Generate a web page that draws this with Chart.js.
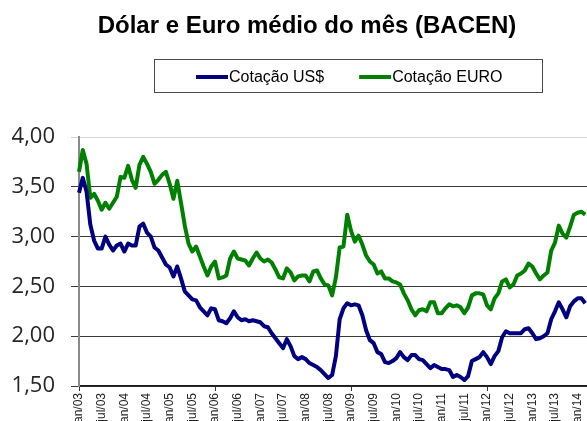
<!DOCTYPE html>
<html lang="pt-BR">
<head>
<meta charset="utf-8">
<title>Dólar e Euro médio do mês (BACEN)</title>
<script src="https://cdn.jsdelivr.net/npm/chart.js@4.4.1/dist/chart.umd.min.js"></script>
<style>
  html, body { margin: 0; padding: 0; background: #fff; overflow: hidden; }
  #wrap { width: 600px; height: 421px; }
</style>
</head>
<body>
<div id="wrap"><canvas id="cotacoes" width="600" height="421"></canvas></div>
<script>
// meses e anos do eixo x (jan/03 ate abr/14)
const meses = ['jan', 'fev', 'mar', 'abr', 'mai', 'jun', 'jul', 'ago', 'set', 'out', 'nov', 'dez'];
const anos = ['03', '04', '05', '06', '07', '08', '09', '10', '11', '12', '13', '14'];
const mesesComRotulo = ['jan', 'jul'];

// media mensal, jan/03 a mar/14
const cotacaoUSD = [
  3.44, 3.59, 3.45, 3.12, 2.96, 2.88, 2.88, 3.00, 2.92, 2.86, 2.91, 2.93,
  2.85, 2.93, 2.91, 2.91, 3.10, 3.13, 3.04, 3.00, 2.89, 2.86, 2.79, 2.72,
  2.69, 2.60, 2.70, 2.58, 2.45, 2.41, 2.37, 2.36, 2.29, 2.25, 2.21, 2.28,
  2.27, 2.16, 2.15, 2.13, 2.18, 2.25, 2.19, 2.16, 2.17, 2.15, 2.16, 2.15,
  2.14, 2.10, 2.09, 2.03, 1.98, 1.93, 1.88, 1.97, 1.90, 1.80, 1.77, 1.79,
  1.77, 1.73, 1.71, 1.69, 1.66, 1.62, 1.58, 1.61, 1.80, 2.17, 2.28, 2.33,
  2.31, 2.32, 2.31, 2.21, 2.06, 1.96, 1.93, 1.84, 1.82, 1.74, 1.73, 1.75,
  1.78, 1.84, 1.79, 1.76, 1.81, 1.81, 1.77, 1.76, 1.72, 1.68, 1.71, 1.69,
  1.67, 1.67, 1.66, 1.59, 1.61, 1.59, 1.56, 1.60, 1.75, 1.77, 1.79, 1.84,
  1.79, 1.72, 1.80, 1.85, 1.99, 2.05, 2.03, 2.03, 2.03, 2.03, 2.07, 2.08,
  2.03, 1.97, 1.98, 2.00, 2.03, 2.17, 2.25, 2.34, 2.27, 2.19, 2.30, 2.35,
  2.38, 2.38, 2.33
];
const cotacaoEURO = [
  3.65, 3.87, 3.73, 3.39, 3.43, 3.36, 3.27, 3.34, 3.28, 3.34, 3.40, 3.60,
  3.59, 3.71, 3.57, 3.49, 3.72, 3.80, 3.73, 3.65, 3.53, 3.57, 3.62, 3.65,
  3.53, 3.38, 3.56, 3.34, 3.11, 2.93, 2.85, 2.90, 2.80, 2.70, 2.61, 2.70,
  2.75, 2.58, 2.59, 2.61, 2.78, 2.85, 2.78, 2.77, 2.76, 2.71, 2.78, 2.84,
  2.78, 2.75, 2.77, 2.74, 2.67, 2.59, 2.58, 2.68, 2.64, 2.56, 2.60, 2.61,
  2.61, 2.55, 2.65, 2.66, 2.58, 2.52, 2.51, 2.41, 2.59, 2.89, 2.90, 3.22,
  3.06, 2.95, 3.01, 2.92, 2.81, 2.75, 2.72, 2.63, 2.65, 2.58, 2.58, 2.55,
  2.54, 2.52, 2.43, 2.36, 2.27, 2.21, 2.26, 2.27, 2.25, 2.34, 2.34, 2.23,
  2.23, 2.28, 2.32, 2.30, 2.31, 2.29, 2.23, 2.29, 2.41, 2.43, 2.43, 2.42,
  2.31, 2.27, 2.38, 2.43, 2.55, 2.57, 2.49, 2.52, 2.61, 2.63, 2.66, 2.73,
  2.70, 2.63, 2.57, 2.61, 2.64, 2.86, 2.94, 3.11, 3.03, 2.99, 3.10, 3.22,
  3.24, 3.25, 3.22
];

const titulo = 'Dólar e Euro médio do mês (BACEN)';
const eixoYMin = 1.5;
const eixoYMax = 4.0;
const eixoYPasso = 0.5;

const rotulos = [];
anos.forEach((a) => meses.forEach((m) => rotulos.push(m + '/' + a)));
rotulos.length = cotacaoUSD.length + 1; // um mes a mais, o grafico continua para alem da borda

const temRotulo = (i) => mesesComRotulo.includes(rotulos[i].split('/')[0]);

// titulo e legenda (numa caixa) desenhados como no original
const tituloELegenda = {
  id: 'tituloELegenda',
  afterDraw(chart) {
    const ctx = chart.ctx;
    ctx.save();
    ctx.fillStyle = '#000';
    ctx.textAlign = 'center';
    ctx.textBaseline = 'middle';
    ctx.font = 'bold 24px "Liberation Sans", Arial, sans-serif';
    ctx.fillText(titulo, 307, 26);

    ctx.textAlign = 'left';
    ctx.strokeStyle = '#4a4a4a';
    ctx.lineWidth = 1;
    ctx.strokeRect(154.5, 59.5, 388, 33);
    ctx.font = '16px "Liberation Sans", Arial, sans-serif';
    let x = 196;
    const y = 77;
    chart.data.datasets.forEach((ds) => {
      ctx.strokeStyle = ds.borderColor;
      ctx.lineWidth = 4;
      ctx.beginPath();
      ctx.moveTo(x, y);
      ctx.lineTo(x + 32, y);
      ctx.stroke();
      ctx.fillStyle = '#000';
      ctx.fillText(ds.label, x + 33, y + 1);
      x += 33 + ctx.measureText(ds.label).width + 35;
    });
    ctx.restore();
  }
};

const ctx = document.getElementById('cotacoes').getContext('2d');
new Chart(ctx, {
  type: 'line',
  data: {
    labels: rotulos,
    datasets: [
      {
        label: 'Cotação US$',
        data: cotacaoUSD,
        borderColor: '#000080',
        backgroundColor: '#000080',
        borderWidth: 4,
        pointRadius: 0,
        tension: 0,
        borderJoinStyle: 'round',
      },
      {
        label: 'Cotação EURO',
        data: cotacaoEURO,
        borderColor: '#008000',
        backgroundColor: '#008000',
        borderWidth: 4,
        pointRadius: 0,
        tension: 0,
        borderJoinStyle: 'round',
      },
    ],
  },
  options: {
    responsive: false,
    animation: false,
    layout: { padding: { left: 0, right: 11, top: 137, bottom: 0 } },
    plugins: {
      legend: { display: false },
      tooltip: { enabled: false },
      title: { display: false },
    },
    scales: {
      x: {
        type: 'category',
        afterFit: (scale) => { scale.height = 35; },
        grid: {
          drawOnChartArea: false,
          drawTicks: true,
          tickLength: 5,
          color: (c) => (temRotulo(c.index) ? '#333' : 'rgba(0,0,0,0)'),
        },
        border: { color: '#1a1a1a', width: 1.5 },
        ticks: {
          autoSkip: false,
          minRotation: 90,
          maxRotation: 90,
          padding: 2,
          color: '#222',
          font: { family: '"Liberation Sans", Arial, sans-serif', size: 12 },
          callback: function (value, index) {
            return temRotulo(index) ? this.getLabelForValue(value) : null;
          },
        },
      },
      y: {
        min: eixoYMin,
        max: eixoYMax,
        afterFit: (scale) => { scale.width = 79; },
        grid: {
          tickLength: 8,
          color: (c) => (c.tick && c.tick.value === eixoYMax ? '#d4d4d4' : '#3a3a3a'),
        },
        border: { color: '#8a8a8a', width: 2 },
        ticks: {
          stepSize: eixoYPasso,
          padding: 16,
          color: '#262626',
          font: { family: '"Open Sans", sans-serif', size: 22 },
          callback: (v) => v.toFixed(2).replace('.', ','),
        },
      },
    },
  },
  plugins: [tituloELegenda],
});
</script>
</body>
</html>
